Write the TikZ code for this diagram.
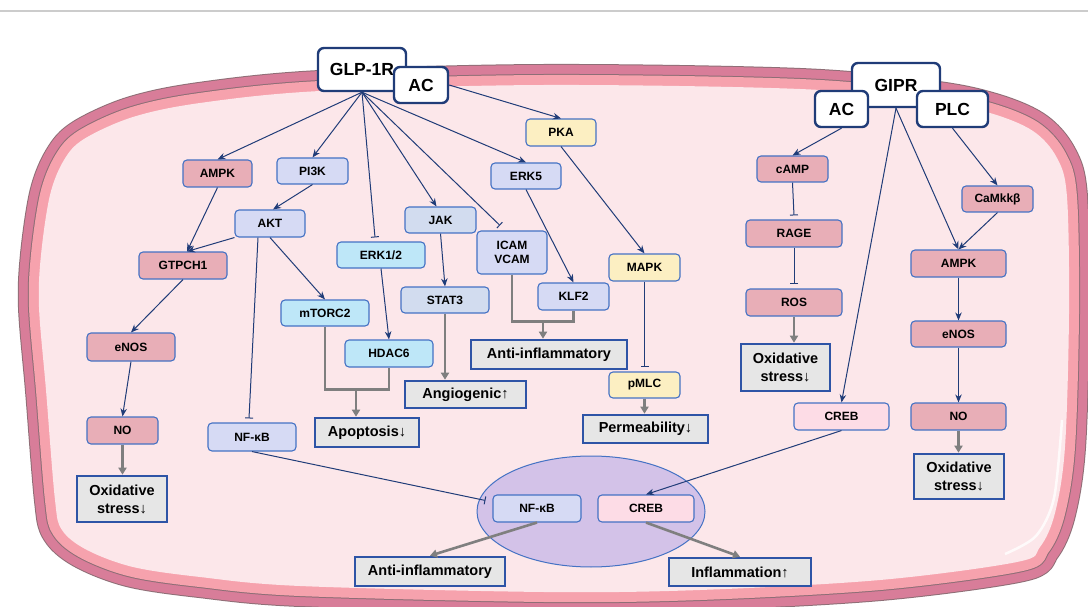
\documentclass[tikz,border=0pt]{standalone}
\usepackage{fontspec}
\setmainfont{Liberation Sans}
\usetikzlibrary{arrows.meta,shapes.geometric}
\definecolor{navy}{HTML}{203C78}
\definecolor{boxblue}{HTML}{4472C4}
\definecolor{pinkf}{HTML}{E8AEB7}
\definecolor{lavf}{HTML}{D6DAF4}
\definecolor{lavg}{HTML}{D2DCEF}
\definecolor{bluf}{HTML}{BEE7F8}
\definecolor{yelf}{HTML}{FCEFC2}
\definecolor{crebf}{HTML}{FDDCE6}
\definecolor{outf}{HTML}{E6E6E6}
\definecolor{outblue}{HTML}{2E54A6}
\definecolor{garrow}{HTML}{7F7F7F}
\definecolor{ellf}{HTML}{D3C2E8}
\definecolor{memdark}{HTML}{D87D99}
\definecolor{memlight}{HTML}{F6A2AD}
\definecolor{memin}{HTML}{FCE7EA}
\definecolor{memedge}{HTML}{8E6E76}
\newcommand\mybox[7]{\node[#2, minimum width=#5pt, minimum height=#6pt] (#1) at (#3,#4) {#7};}
\tikzset{
  bx/.style={rounded corners=4pt, draw=boxblue, line width=1.1pt, inner sep=0pt, font=\fontsize{12}{14}\selectfont\bfseries, text=black, align=center},
  pinkb/.style={bx, fill=pinkf},
  lavb/.style={bx, fill=lavf},
  lavgb/.style={bx, fill=lavg},
  blub/.style={bx, fill=bluf},
  yelb/.style={bx, fill=yelf},
  crb/.style={bx, fill=crebf},
  outb/.style={draw=outblue, line width=2.6pt, fill=outf, inner sep=0pt, font=\fontsize{14.5}{18}\selectfont\bfseries, align=center},
  recb/.style={draw=navy, line width=2.4pt, rounded corners=6pt, fill=white, inner sep=0pt, font=\fontsize{17.5}{20}\selectfont\bfseries},
  nav/.style={draw=navy, line width=1pt, -{Stealth[length=8pt,width=6.5pt]}},
  inh/.style={draw=navy, line width=1pt, -{Bar[width=8pt]}},
  garr/.style={draw=garrow, line width=2.6pt, -{Triangle[length=7pt,width=8pt]}},
  gln/.style={draw=garrow, line width=2.6pt},
}
\begin{document}
\begin{tikzpicture}[x=1pt,y=-1pt]
\useasboundingbox (0,0) rectangle (1088,607);
\fill[white] (0,0) rectangle (1088,607);
\draw[gray!40, line width=1.2pt] (0,11) -- (1088,11);
% membrane
\path[save path=\membpath] plot[smooth cycle, tension=0.55] coordinates {
 (320,91) (544,85) (800,89) (930,101) (990,113) (1033,131) (1057,158) (1067,197)
 (1069,313) (1065,447) (1055,513) (1040,547) (1017,562) (880,580) (700,590)
 (544,592) (300,586) (200,577) (133,567) (87,550) (62,530) (55,500) (46,390)
 (39,307) (41,255) (50,195) (64,160) (84,139) (133,117) (200,103)};
\draw[use path=\membpath, memedge, line width=42pt, line join=round];
\draw[use path=\membpath, memdark, line width=40pt, line join=round];
\draw[use path=\membpath, memedge, line width=22pt, line join=round];
\draw[use path=\membpath, memlight, line width=20pt, line join=round];
\fill[use path=\membpath, memin];
\draw[white, line width=2.5pt, opacity=0.8] plot[smooth] coordinates {(1062,420) (1054,498) (1036,536) (1005,554)};
% ellipse
\node[ellipse, draw=boxblue, fill=ellf, line width=1pt, minimum width=228pt, minimum height=111pt, inner sep=0pt] (ell) at (591,511.5) {};
% receptors
\mybox{glp}{recb}{362}{69.5}{88}{43}{GLP-1R}
\mybox{acL}{recb}{421}{85}{54}{36}{AC}
\mybox{gipr}{recb}{896}{85}{88}{44}{GIPR}
\mybox{acR}{recb}{841.5}{109}{53}{36}{AC}
\mybox{plc}{recb}{952.5}{109}{71}{36}{PLC}
% left part
\mybox{ampkL}{pinkb}{217.5}{173.5}{69}{27}{AMPK}
\mybox{pi3k}{lavb}{312.5}{171}{71}{26}{PI3K}
\mybox{akt}{lavb}{270}{223.5}{70}{27}{AKT}
\mybox{gtpch}{pinkb}{183}{265.5}{88}{27}{GTPCH1}
\mybox{erk12}{blub}{381}{255}{88}{26}{ERK1/2}
\mybox{jak}{lavgb}{440.5}{220}{71}{26}{JAK}
\mybox{icam}{lavb}{512}{252.5}{70}{43}{ICAM\\VCAM}
\mybox{erk5}{lavb}{526}{176}{70}{26}{ERK5}
\mybox{pka}{yelb}{561}{132.5}{70}{27}{PKA}
\mybox{stat3}{lavgb}{445}{300}{88}{26}{STAT3}
\mybox{mtorc}{blub}{325}{313}{88}{26}{mTORC2}
\mybox{hdac}{blub}{389}{353.5}{88}{27}{HDAC6}
\mybox{klf2}{lavb}{573.5}{296.5}{71}{27}{KLF2}
\mybox{mapk}{yelb}{644.5}{267.5}{71}{27}{MAPK}
\mybox{pmlc}{yelb}{644.5}{385}{71}{26}{pMLC}
\mybox{enosL}{pinkb}{131}{347}{88}{28}{eNOS}
\mybox{noL}{pinkb}{122.5}{430.5}{71}{27}{NO}
\mybox{oxL}{outb}{122}{499}{90}{46}{Oxidative\\stress↓}
\mybox{nfkbL}{lavb}{252}{437}{88}{28}{NF-κB}
\mybox{apop}{outb}{367}{432.5}{104}{29}{Apoptosis↓}
\mybox{angio}{outb}{465.5}{394.5}{121}{27}{Angiogenic↑}
\mybox{antiU}{outb}{549}{354.5}{156}{29}{Anti-inflammatory}
\mybox{perm}{outb}{645.5}{429}{125}{28}{Permeability↓}
\mybox{nfkbI}{lavb}{537}{508.5}{88}{27}{NF-κB}
\mybox{crebI}{crb}{646}{508.5}{96}{27}{CREB}
\mybox{antiB}{outb}{430}{571.5}{150}{29}{Anti-inflammatory}
\mybox{infl}{outb}{740}{572}{142}{28}{Inflammation↑}
% right part
\mybox{camp}{pinkb}{792.5}{169}{71}{26}{cAMP}
\mybox{rage}{pinkb}{794}{233.5}{96}{27}{RAGE}
\mybox{ros}{pinkb}{794}{302.5}{96}{27}{ROS}
\mybox{oxM}{outb}{785.5}{367.5}{89}{47}{Oxidative\\stress↓}
\mybox{camkk}{pinkb}{997.5}{199}{71}{26}{CaMkkβ}
\mybox{ampkR}{pinkb}{958.5}{263.5}{95}{27}{AMPK}
\mybox{enosR}{pinkb}{958.5}{334}{95}{26}{eNOS}
\mybox{noR}{pinkb}{958.5}{416.5}{95}{27}{NO}
\mybox{oxR}{outb}{959}{476.5}{90}{45}{Oxidative\\stress↓}
\mybox{crebM}{crb}{841.5}{416.5}{95}{27}{CREB}
% GLP-1R connectors
\draw[nav] (glp.south) -- (ampkL.north);
\draw[nav] (glp.south) -- (pi3k.north);
\draw[inh] (glp.south) -- ([xshift=-6pt,yshift=4pt]erk12.north);
\draw[nav] (glp.south) -- ([xshift=-4pt]jak.north);
\draw[inh] (glp.south) -- ([xshift=-12pt,yshift=5pt]icam.north);
\draw[nav] (glp.south) -- (erk5.north);
\draw[nav] (acL.east) -- (pka.north);
\draw[nav] (pi3k.south) -- ([xshift=3pt]akt.north);
\draw[nav] (akt.south west) -- ([xshift=4pt]gtpch.north);
\draw[nav] (ampkL.south) -- ([xshift=4pt]gtpch.north);
\draw[inh] ([xshift=-12pt]akt.south) -- ([xshift=-3pt,yshift=4pt]nfkbL.north);
\draw[nav] (akt.south) -- (mtorc.north);
\draw[nav] (erk12.south) -- (hdac.north);
\draw[nav] (jak.south) -- (stat3.north);
\draw[nav] (erk5.south) -- (klf2.north);
\draw[nav] (pka.south) -- (mapk.north);
\draw[inh] (mapk.south) -- ([yshift=4pt]pmlc.north);
\draw[nav] (gtpch.south) -- (enosL.north);
\draw[nav] (enosL.south) -- (noL.north);
\draw[inh] (nfkbL.south) -- ([xshift=-7pt,yshift=8pt]nfkbI.west);
% gray outcome connectors
\draw[garr] (noL.south) -- (noL.south |- oxL.north);
\draw[gln] (mtorc.south) -- ++(0,63) -| (hdac.south);
\coordinate (mj) at (356,389);
\draw[garr] (mj) -- (mj |- apop.north);
\draw[garr] (stat3.south) -- (stat3.south |- angio.north);
\draw[gln] (icam.south) -- ++(0,47) -| (klf2.south);
\coordinate (ij) at (543,321);
\draw[garr] (ij) -- (ij |- antiU.north);
\draw[garr] (pmlc.south) -- (pmlc.south |- perm.north);
\draw[garr] (ros.south) -- (ros.south |- oxM.north);
\draw[garr] (noR.south) -- (noR.south |- oxR.north);
\draw[garr] (nfkbI.south) -- (antiB.north);
\draw[garr] (crebI.south) -- (infl.north);
% GIPR connectors
\draw[nav] (acR.south) -- (camp.north);
\draw[inh] (camp.south) -- ([yshift=4pt]rage.north);
\draw[inh] (rage.south) -- ([yshift=4pt]ros.north);
\draw[nav] (gipr.south) -- (crebM.north);
\draw[nav] (gipr.south) -- (ampkR.north);
\draw[nav] (plc.south) -- (camkk.north);
\draw[nav] (camkk.south) -- (ampkR.north);
\draw[nav] (ampkR.south) -- (enosR.north);
\draw[nav] (enosR.south) -- (noR.north);
\draw[nav] (crebM.south) -- (crebI.north);
\end{tikzpicture}
\end{document}
